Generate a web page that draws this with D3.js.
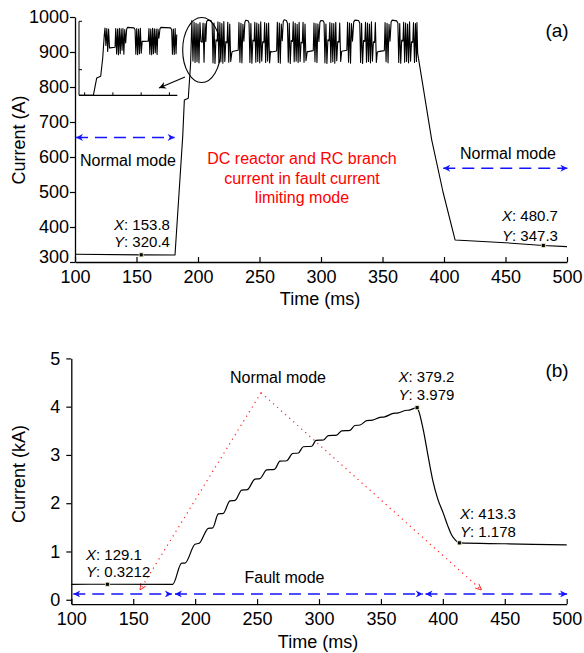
<!DOCTYPE html>
<html><head><meta charset="utf-8">
<script src="https://cdn.jsdelivr.net/npm/d3@7"></script>
<style>
body{margin:0;background:#fff}
svg{display:block}
text{font-family:"Liberation Sans",Arial,Helvetica,sans-serif;fill:#000}
</style>
</head><body>
<svg id="chart" width="584" height="653"></svg>
<script>
// ---------------- DATA ----------------
const xTicks = [100,150,200,250,300,350,400,450,500];
const yTicksA = [300,400,500,600,700,800,900,1000];
const yTicksB = [0,1,2,3,4,5];

// (a) DC reactor current, A  [time ms, current A]
const preFaultA = [[100,322],[153.8,320.4],[181.3,320],[187.6,660],[188.9,763],[192.1,768],[194.0,868]];
const oscA0 = [[195.0,990],[195.9,874],[196.8,985],[197.6,870],[198.4,982],[199.2,872],[200.0,980],[200.8,869],[201.6,984],[202.4,930],[203.4,928],[204.1,983],[204.9,871],[205.7,981],[206.4,930],[207.0,987],[208.0,991],[210.5,990],[211.5,982],[212.2,869],[213.0,983],[213.8,867],[214.6,935],[215.6,931],[216.2,986],[217.0,870],[217.8,984],[218.6,872],[219.4,981],[220.2,868],[221.0,987],[221.8,873],[222.6,930],[223.6,926],[224.2,985],[225.0,871],[225.8,980],[226.6,873],[227.6,900]];
const oscA1 = [[228.7,902],[232.7,905],[233.3,984],[234.1,871],[234.9,982],[235.7,869],[236.5,979],[237.3,931],[238.1,986],[238.9,991],[240.7,989],[241.5,983],[242.2,870],[243.0,981],[243.8,868],[244.6,934],[245.6,931],[246.2,985],[247.0,871],[247.8,983],[248.6,873],[249.4,980],[250.2,869],[251.0,986],[251.8,874],[252.6,929],[253.6,927],[254.2,984],[255.0,870],[255.8,981],[256.6,874],[257.4,983],[258.2,869],[259.0,902]];
const oscA2 = [[259.9,900],[263.9,903],[264.5,985],[265.3,870],[266.1,983],[266.9,868],[267.7,980],[268.5,932],[269.3,987],[270.1,992],[271.9,990],[272.7,982],[273.4,871],[274.2,982],[275.0,867],[275.8,933],[276.8,930],[277.4,986],[278.2,872],[279.0,982],[279.8,874],[280.6,979],[281.4,870],[282.2,985],[283.0,873],[283.8,928],[284.8,926],[285.4,985],[286.2,871],[287.0,980],[287.8,875],[288.8,901]];
const oscA3 = [[289.7,901],[293.7,904],[294.3,983],[295.1,872],[295.9,981],[296.7,870],[297.5,980],[298.3,930],[299.1,985],[299.9,990],[301.7,989],[302.5,984],[303.2,869],[304.0,980],[304.8,867],[305.6,935],[306.6,932],[307.2,984],[308.0,870],[308.8,982],[309.6,872],[310.4,981],[311.2,868],[312.0,985],[312.8,875],[313.6,930],[314.6,928],[315.2,983],[316.0,873]];
const oscA4 = [[316.8,902],[321.0,905],[321.6,985],[322.4,871],[323.2,983],[324.0,868],[324.8,981],[325.6,931],[326.6,986],[327.6,991],[330.5,990],[331.5,983],[332.2,870],[333.0,982],[333.8,867],[334.6,933],[335.6,930],[336.2,985],[337.0,871],[337.8,983],[338.6,873],[339.4,980],[340.2,869],[341.0,986],[341.8,874],[342.6,929],[343.6,927],[344.2,984],[345.0,870],[345.8,900]];
const oscA5 = [[346.6,901],[351.5,904],[352.1,984],[352.9,872],[353.7,982],[354.5,869],[355.3,979],[356.1,931],[357.0,986],[357.8,991],[361.5,989],[362.5,983],[363.2,870],[364.0,981],[364.8,868],[365.6,934],[366.6,931],[367.2,985],[368.0,871],[368.8,983],[369.6,873],[370.4,980],[371.2,869],[372.0,986],[372.8,874],[373.6,929],[374.6,927],[375.2,984],[376.0,870],[376.8,981],[377.6,873],[378.0,984],[378.6,896]];
const postFaultA = [[390,649],[399.2,500],[409,363],[450,355],[480.7,347.3],[500,344]];

// (a) inset (zoomed view of the transition), [time ms, current A]
const insetXTicks = [180,205,230,255];
const insetYTicks = [800,1000];
const insetA = [[175,694],[187.7,694],[190.7,766],[194.2,773],[196,848],[197.4,945],[198.0,972],[198.8,900],[199.6,970],[200.4,875],[201.2,968],[202.0,890],[202.4,890],[206.9,893],[207.5,970],[208.3,865],[209.1,968],[209.9,862],[210.7,971],[211.5,866],[212.3,969],[213.1,880],[213.9,970],[214.7,864],[215.5,966],[216.3,910],[217.2,968],[218,975],[223.6,973],[224.6,966],[225.3,864],[226.1,970],[226.9,862],[227.7,968],[228.5,866],[229.3,971],[230.1,868],[230.9,917],[231.9,917],[236.3,918],[236.9,970],[237.7,864],[238.5,968],[239.3,862],[240.1,971],[240.9,866],[241.7,969],[242.5,870],[243.3,968],[244.1,863],[244.9,968],[245.7,930],[246.7,970],[247.5,975],[256,973],[257,966],[257.7,864],[258.5,968],[259.3,863],[260.1,970],[260.9,866],[261.5,945]];

// (b) current, kA [time ms, current kA]
const currentB = [[100,0.32],[129.1,0.3212],[181.9,0.32],[189.1,0.76],[191.8,0.76],[199.9,1.15],[203.3,1.17],[210.6,1.48],[214.2,1.49],[218.7,1.78],[222.7,1.79],[228.1,2.05],[232.2,2.06],[237.6,2.27],[242.1,2.28],[248.3,2.50],[252.3,2.51],[257.8,2.69],[264.0,2.70],[268.5,2.87],[273.9,2.88],[278.7,3.03],[283.3,3.04],[287.3,3.17],[294.1,3.18],[297.6,3.30],[303.5,3.31],[307.5,3.40],[314.3,3.41],[318.3,3.50],[325.0,3.51],[329.0,3.61],[333.1,3.62],[338.5,3.71],[343.0,3.72],[349.2,3.78],[353.0,3.79],[360.0,3.86],[364.0,3.87],[369.4,3.92],[373.0,3.93],[379.2,3.979],[380.2,3.93],[384.2,3.52],[388.2,2.96],[391.8,2.48],[396,2.08],[400.4,1.79],[404,1.53],[407.1,1.34],[410,1.24],[413.3,1.178],[450,1.16],[500,1.135]];

// data tips
const tipsA = [{x:153.8,y:320.4},{x:480.7,y:347.3}];
const tipsB = [{x:129.1,y:0.3212},{x:379.2,y:3.979},{x:413.3,y:1.178}];

// mode spans (ms) and guide lines
const modeArrowsA = [{x0:100.8,x1:181.0,y:656},{x0:399.4,x1:500.3,y:568}];
const modeArrowsB = [{x0:101.6,x1:181.2,y:0.12},{x0:183.7,x1:383.8,y:0.12},{x0:386.0,x1:500.3,y:0.12}];
const redGuideLeft = [[253.2,4.29],[155.4,0.2]];
const redGuideRight = [[253.2,4.29],[431.3,0.2]];
const zoomArrowA = [[189.4,828.6],[168.3,797]];
const zoomEllipseA = {x:203, y:905.7};

// ---------------- DRAW ----------------
const svg = d3.select("#chart");
const defs = svg.append("defs");
defs.append("marker").attr("id","blueHead").attr("viewBox","0 0 10 10").attr("refX",10).attr("refY",5)
  .attr("markerWidth",9).attr("markerHeight",7).attr("markerUnits","userSpaceOnUse").attr("orient","auto-start-reverse")
  .append("path").attr("d","M0,0 L10,5 L0,10 L3,5 Z").attr("fill","#1414ff");
defs.append("marker").attr("id","blackHead").attr("viewBox","0 0 10 10").attr("refX",10).attr("refY",5)
  .attr("markerWidth",9).attr("markerHeight",7).attr("markerUnits","userSpaceOnUse").attr("orient","auto")
  .append("path").attr("d","M0,0 L10,5 L0,10 L3,5 Z").attr("fill","#000");
defs.append("marker").attr("id","redHead").attr("viewBox","0 0 10 10").attr("refX",10).attr("refY",5)
  .attr("markerWidth",7).attr("markerHeight",7).attr("markerUnits","userSpaceOnUse").attr("orient","auto")
  .append("path").attr("d","M1,1 L10,5 L1,9").attr("fill","none").attr("stroke","#ff2020").attr("stroke-width",1.3);

const FS_TICK = 18, FS_ANN = 16, FS_TIP = 15;

// ---- Panel (a)
const xA = d3.scaleLinear().domain([100,500]).range([75,567]);
const yA = d3.scaleLinear().domain([300,1000]).range([262,17]);
const gA = svg.append("g");

gA.append("g").attr("transform",`translate(0,${yA(300)})`)
  .call(d3.axisBottom(xA).tickValues(xTicks).tickFormat(d3.format("d")).tickSizeInner(-5).tickSizeOuter(0).tickPadding(8));
const axA_y = gA.append("g").attr("transform",`translate(${xA(100)},0)`)
  .call(d3.axisLeft(yA).tickValues(yTicksA).tickFormat(d3.format("d")).tickSizeInner(5).tickSizeOuter(0).tickPadding(1));
axA_y.selectAll(".tick").filter(d=>d===300).select("text").attr("dy","0.05em");

const lineA = d3.line().x(d=>xA(d[0])).y(d=>yA(d[1]));
const fullA = [].concat(preFaultA, oscA0, oscA1, oscA2, oscA3, oscA4, oscA5, postFaultA);
gA.append("path").datum(fullA).attr("d",lineA).attr("fill","none").attr("stroke","#000").attr("stroke-width",1.1).attr("stroke-linejoin","round");

// inset
const xI = d3.scaleLinear().domain([175,262]).range([79,177.3]);
const yI = d3.scaleLinear().domain([694,1000]).range([95.3,21.3]);
const gI = gA.append("g");
gI.append("path").datum(insetA).attr("d",d3.line().x(d=>xI(d[0])).y(d=>yI(d[1])))
  .attr("fill","none").attr("stroke","#000").attr("stroke-width",1.1).attr("stroke-linejoin","round");
gI.append("line").attr("x1",xI(175)).attr("x2",xI(175)).attr("y1",yI(694)).attr("y2",yI(1000)).attr("stroke","#000").attr("stroke-width",1);
gI.append("line").attr("x1",xI(175)).attr("x2",xI(262)).attr("y1",yI(694)).attr("y2",yI(694)).attr("stroke","#000").attr("stroke-width",1.2);
gI.selectAll(".ixt").data(insetXTicks).join("line").attr("x1",d=>xI(d)).attr("x2",d=>xI(d))
  .attr("y1",yI(694)).attr("y2",yI(694)-3).attr("stroke","#000").attr("stroke-width",1);
gI.selectAll(".iyt").data(insetYTicks).join("line").attr("x1",xI(175)).attr("x2",xI(175)+3)
  .attr("y1",d=>yI(d)).attr("y2",d=>yI(d)).attr("stroke","#000").attr("stroke-width",1);

// zoom ellipse and arrow
gA.append("ellipse").attr("cx",xA(zoomEllipseA.x)).attr("cy",yA(zoomEllipseA.y)).attr("rx",19).attr("ry",32.5)
  .attr("fill","none").attr("stroke","#000").attr("stroke-width",1.1);
gA.append("path").datum(zoomArrowA).attr("d",lineA).attr("stroke","#000").attr("stroke-width",1.1).attr("marker-end","url(#blackHead)");

// mode arrows (a)
gA.selectAll(".ma").data(modeArrowsA).join("line")
  .attr("x1",d=>xA(d.x0)).attr("x2",d=>xA(d.x1)).attr("y1",d=>yA(d.y)).attr("y2",d=>yA(d.y))
  .attr("stroke","#1414ff").attr("stroke-width",1.5).attr("stroke-dasharray","12,7")
  .attr("marker-start","url(#blueHead)").attr("marker-end","url(#blueHead)");

// tips (a)
gA.selectAll(".tip").data(tipsA).join("rect").attr("x",d=>xA(d.x)-2).attr("y",d=>yA(d.y)-2).attr("width",4).attr("height",4)
  .attr("fill","#000").attr("stroke","#f3eebc").attr("stroke-width",0.8);

function tipText(g, x, y1, y2, xs, ys){
  const t1 = g.append("text").attr("x",x).attr("y",y1).attr("font-size",FS_TIP);
  t1.append("tspan").attr("font-style","italic").text("X"); t1.append("tspan").text(": "+xs);
  const t2 = g.append("text").attr("x",x).attr("y",y2).attr("font-size",FS_TIP);
  t2.append("tspan").attr("font-style","italic").text("Y"); t2.append("tspan").text(": "+ys);
}
tipText(gA, 114, 229.5, 247.3, "153.8", "320.4");
tipText(gA, 502, 220.5, 240.5, "480.7", "347.3");

gA.append("text").attr("x",128).attr("y",165.7).attr("text-anchor","middle").attr("font-size",FS_ANN).text("Normal mode");
gA.append("text").attr("x",508).attr("y",158.5).attr("text-anchor","middle").attr("font-size",FS_ANN).text("Normal mode");
const redLines = ["DC reactor and RC branch","current in fault current","limiting mode"];
gA.selectAll(".rt").data(redLines).join("text").attr("x",302).attr("y",(d,i)=>164+i*19.7)
  .attr("text-anchor","middle").attr("font-size",FS_ANN).style("fill","#ff0000").text(d=>d);

gA.append("text").attr("x",557).attr("y",36.5).attr("text-anchor","middle").attr("font-size",19).text("(a)");
gA.append("text").attr("transform","translate(24.5,140) rotate(-90)").attr("text-anchor","middle").attr("font-size",FS_TICK).text("Current (A)");
gA.append("text").attr("x",320).attr("y",305).attr("text-anchor","middle").attr("font-size",FS_TICK).text("Time (ms)");

// ---- Panel (b)
const xB = d3.scaleLinear().domain([100,500]).range([71.3,566.7]);
const yB = d3.scaleLinear().domain([-0.09,5]).range([604.1,358.4]);
const gB = svg.append("g");
gB.append("g").attr("transform",`translate(0,${yB(-0.09)})`)
  .call(d3.axisBottom(xB).tickValues(xTicks).tickFormat(d3.format("d")).tickSizeInner(-5).tickSizeOuter(0).tickPadding(8));
gB.append("g").attr("transform",`translate(${xB(100)},0)`)
  .call(d3.axisLeft(yB).tickValues(yTicksB).tickFormat(d3.format("d")).tickSizeInner(5).tickSizeOuter(0).tickPadding(6));

const lineB = d3.line().x(d=>xB(d[0])).y(d=>yB(d[1]));
// red dotted guides
[redGuideLeft, redGuideRight].forEach(g=>{
  gB.append("path").datum(g).attr("d",lineB).attr("fill","none").attr("stroke","#ff2020").attr("stroke-width",1.2)
    .attr("stroke-dasharray","1.2,4.2").attr("marker-end","url(#redHead)");
});
gB.append("path").datum(currentB).attr("d",lineB.curve(d3.curveMonotoneX)).attr("fill","none").attr("stroke","#000").attr("stroke-width",1.2);

gB.selectAll(".mb").data(modeArrowsB).join("line")
  .attr("x1",d=>xB(d.x0)).attr("x2",d=>xB(d.x1)).attr("y1",d=>yB(d.y)).attr("y2",d=>yB(d.y))
  .attr("stroke","#1414ff").attr("stroke-width",1.5).attr("stroke-dasharray","12,7")
  .attr("marker-start","url(#blueHead)").attr("marker-end","url(#blueHead)");

gB.selectAll(".tip").data(tipsB).join("rect").attr("x",d=>xB(d.x)-2).attr("y",d=>yB(d.y)-2).attr("width",4).attr("height",4)
  .attr("fill","#000").attr("stroke","#f3eebc").attr("stroke-width",0.8);
tipText(gB, 86, 559.5, 577.3, "129.1", "0.3212");
tipText(gB, 398.5, 381.5, 399.5, "379.2", "3.979");
tipText(gB, 460, 518.5, 536.5, "413.3", "1.178");

gB.append("text").attr("x",278).attr("y",382.5).attr("text-anchor","middle").attr("font-size",FS_ANN).text("Normal mode");
gB.append("text").attr("x",284.5).attr("y",582.5).attr("text-anchor","middle").attr("font-size",FS_ANN).text("Fault mode");
gB.append("text").attr("x",557).attr("y",376.5).attr("text-anchor","middle").attr("font-size",19).text("(b)");
gB.append("text").attr("transform","translate(24.5,474) rotate(-90)").attr("text-anchor","middle").attr("font-size",FS_TICK).text("Current (kA)");
gB.append("text").attr("x",318).attr("y",648).attr("text-anchor","middle").attr("font-size",FS_TICK).text("Time (ms)");

// axis styling
svg.selectAll(".domain").attr("stroke","#000").attr("stroke-width",1.3);
svg.selectAll(".tick line").attr("stroke","#000").attr("stroke-width",1.2);
svg.selectAll(".tick text").attr("font-size",FS_TICK).attr("font-family",'"Liberation Sans",Arial,sans-serif').style("fill","#000");
</script>
</body></html>
